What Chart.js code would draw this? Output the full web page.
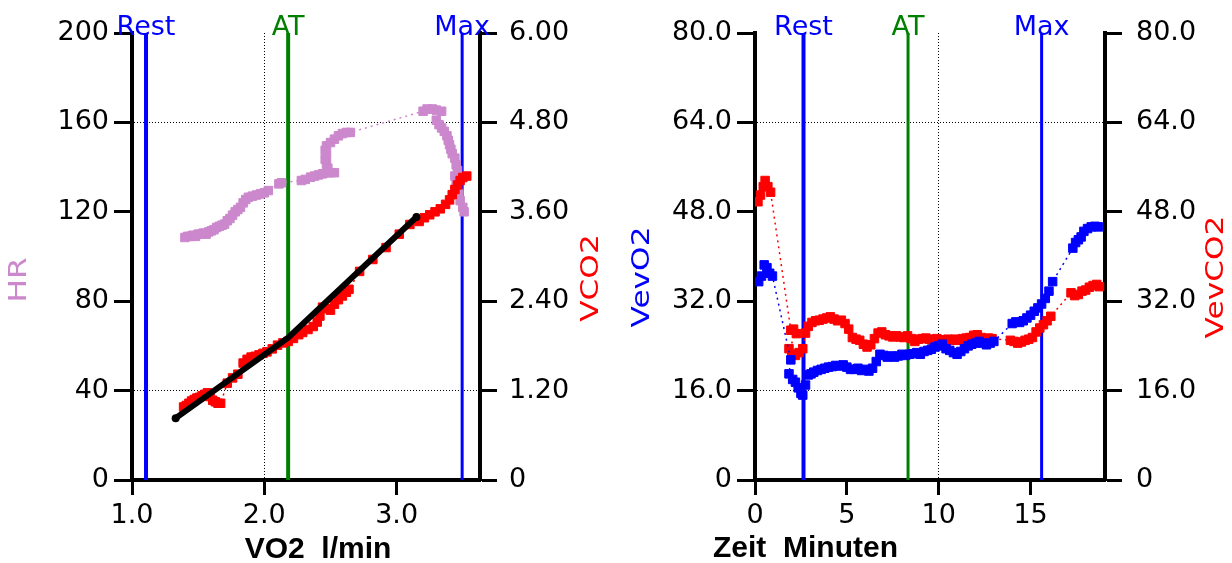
<!DOCTYPE html>
<html><head><meta charset="utf-8">
<script src="https://cdn.jsdelivr.net/npm/chart.js@4.4.0/dist/chart.umd.min.js"></script>
<style>
html,body{margin:0;padding:0;background:#fff;overflow:hidden}
#w{position:relative;width:1232px;height:563px;background:#fff}
.c{position:absolute;top:0;width:616px;height:563px}
</style></head><body>
<div id="w"><div class="c" style="left:0"><canvas id="c1"></canvas></div><div class="c" style="left:616px"><canvas id="c2"></canvas></div></div>
<script>
// ---------- DATA ----------
const markerNames = ['Rest', 'AT', 'Max'];
const vo2Markers = [1.106, 2.18, 3.495];
const timeMarkers = [2.64, 8.33, 15.6];

const hrTicks = [0, 40, 80, 120, 160, 200];
const vco2Ticks = [0, 1.2, 2.4, 3.6, 4.8, 6.0];
const vo2Ticks = [1, 2, 3];
const timeTicks = [0, 5, 10, 15];
const ventTicks = [0, 16, 32, 48, 64, 80];

// HR vs VO2
const hrVo2 = [1.40,1.42,1.44,1.46,1.48,1.50,1.52,1.54,1.56,1.58,1.60,1.62,1.64,1.66,1.68,1.70,1.72,1.74,1.76,1.78,1.80,1.82,1.84,1.86,1.88,1.91,1.94,1.97,2.00,2.03,2.11,2.13,2.28,2.31,2.35,2.38,2.41,2.44,2.47,2.50,2.53,2.48,2.47,2.46,2.47,2.46,2.47,2.50,2.53,2.56,2.59,2.62,2.65,3.20,3.23,3.27,3.30,3.34,3.30,3.32,3.34,3.36,3.38,3.39,3.40,3.41,3.42,3.44,3.45,3.46,3.44,3.45,3.46,3.47,3.48,3.50,3.51];
const hrValues = [108.5,109,109,109.5,109,110,110,110.5,110,111,111.5,112,113,113.5,114,114.5,116,117,118.5,120,121,122,124,125.5,126.5,127,127.5,128,128.5,129.5,132.5,133,134,134.5,135.5,136,136.5,137,137.5,137.5,137.5,139.5,141.5,143.5,145.5,147.5,149.5,151,152.5,154,155,155.5,155.5,165,166,166,165.5,165,161,159,157.5,156,154,152,150,148,146,144,141,138.5,136,133,130.5,128,125,122,120];

// VCO2 vs VO2
const co2Vo2 = [1.39,1.41,1.43,1.45,1.47,1.49,1.51,1.53,1.55,1.57,1.59,1.61,1.63,1.65,1.67,1.72,1.76,1.80,1.84,1.87,1.90,1.93,1.96,1.99,2.02,2.06,2.10,2.14,2.18,2.22,2.26,2.29,2.33,2.37,2.40,2.42,2.44,2.47,2.50,2.53,2.56,2.59,2.62,2.64,2.72,2.82,2.92,3.02,3.10,3.17,3.21,3.25,3.29,3.33,3.37,3.40,3.42,3.44,3.46,3.48,3.50,3.53];
const vco2Values = [0.98,1.00,1.03,1.06,1.08,1.10,1.11,1.13,1.15,1.17,1.12,1.07,1.05,1.03,1.03,1.30,1.37,1.42,1.57,1.62,1.65,1.66,1.68,1.70,1.72,1.76,1.81,1.84,1.86,1.90,1.95,1.98,2.02,2.06,2.12,2.20,2.32,2.30,2.28,2.36,2.42,2.47,2.52,2.56,2.80,2.96,3.12,3.30,3.43,3.47,3.52,3.56,3.60,3.64,3.70,3.76,3.83,3.90,3.96,4.02,4.06,4.08];

// regression line (VCO2 vs VO2)
const fitVo2 = [1.33, 2.18, 3.15];
const fitVco2 = [0.83, 1.91, 3.53];

// VE/VO2 over time
const veo2Time = [0.2,0.35,0.5,0.65,0.8,0.95,1.95,1.85,2.05,2.2,2.35,2.5,2.6,2.75,2.9,3.05,3.2,3.4,3.6,3.8,4.0,4.2,4.4,4.6,4.8,5.0,5.2,5.4,5.6,5.8,6.0,6.2,6.4,6.6,6.8,7.0,7.2,7.4,7.6,7.8,8.0,8.2,8.4,8.6,8.8,9.0,9.2,9.4,9.6,9.8,10.0,10.2,10.4,10.6,10.8,11.0,11.2,11.4,11.6,11.8,12.0,12.2,12.4,12.6,12.8,13.0,14.0,14.2,14.4,14.6,14.8,15.0,15.2,15.4,15.6,15.8,16.0,16.2,17.3,17.45,17.6,17.75,17.9,18.1,18.3,18.5,18.7];
const veo2Values = [35.5,36.5,38.5,38,37,36.5,21.5,19,18,17.5,16.5,15.5,15.2,17,18.8,19,19.3,19.6,19.8,20,20.2,20.3,20.5,20.4,20.6,20.2,19.8,19.8,20,19.6,19.8,19.5,20,21.2,22.5,22.3,22,22.2,22,22.2,22.5,22.3,22.5,22.6,22.8,22.5,23,23.2,23.4,23.8,24,24.3,23.5,23.2,22.8,22.5,23,23.5,24,24.3,24.5,24.8,24.5,24.2,24.5,24.8,28,28.3,28.2,28.5,29,29.5,30.2,30.8,31.5,32.5,33.8,35.5,41.5,42.5,43,43.5,44.5,45,45.3,45.4,45.3];

// VE/VCO2 over time
const veco2Time = [0.16,0.3,0.45,0.55,0.7,0.85,1.95,2.1,2.25,1.85,2.0,2.2,2.4,2.6,2.75,2.9,3.1,3.3,3.5,3.7,3.9,4.1,4.3,4.5,4.7,4.9,5.1,5.3,5.5,5.7,5.9,6.1,6.3,6.5,6.7,6.9,7.1,7.3,7.5,7.7,7.9,8.1,8.3,8.5,8.7,8.9,9.1,9.3,9.5,9.7,9.9,10.1,10.3,10.5,10.7,10.9,11.1,11.3,11.5,11.7,11.9,12.1,12.3,12.5,12.7,12.9,13.9,14.1,14.3,14.5,14.7,14.9,15.1,15.3,15.5,15.7,15.9,16.1,17.2,17.4,17.6,17.8,18.0,18.2,18.4,18.6,18.75];
const veco2Values = [49.8,51,52.5,53.6,52.5,51.5,26.8,27,26.2,23.5,22.5,22.3,22.8,23.5,26.3,27.5,28.2,28.5,28.6,28.8,29,29.2,28.8,28.5,28.6,28,27,25.5,25.2,25,24.3,23.8,24.2,25.3,26.3,26.5,26,25.8,25.6,25.8,25.6,25.5,25.8,25.3,24.8,25.2,25.3,25.4,25.2,24.8,25.3,25.1,24.9,25.2,25.0,25.2,25.0,25.3,25.4,25.5,25.9,26,25.5,25.2,25.4,25.3,25.0,24.8,24.5,24.7,25.0,25.2,25.5,26.5,27.2,27.8,28.5,29.3,33.5,33,33.2,33.8,34,34.5,34.8,35,34.6];

// ---------- STYLE / BUILD ----------
const BLUE = '#0000ff', GREEN = '#008000', RED = '#ff0000', VIOLET = '#cc88cc', T = 'rgba(0,0,0,0)';
const markerColors = [BLUE, GREEN, BLUE];
const FONT = 'DejaVu Sans';
Chart.defaults.font.family = FONT;
Chart.defaults.color = '#000';

const pts = (xs, ys) => xs.map((x, i) => ({x, y: ys[i]}));

function scatterSet(xs, ys, color, axis, order) {
  return {type: 'line', data: pts(xs, ys), yAxisID: axis, showLine: true, order,
    borderColor: color, borderWidth: 1.5, borderDash: [2, 4], backgroundColor: color,
    pointStyle: 'rect', pointRadius: 6, pointBorderWidth: 1, pointBackgroundColor: color, pointBorderColor: color, tension: 0};
}
function markerSets(values, yMax, widths, axis) {
  return values.map((v, i) => ({type: 'line', data: [{x: v, y: 0}, {x: v, y: yMax}], yAxisID: axis,
    borderColor: markerColors[i], borderWidth: widths[i], pointRadius: 0, order: 10}));
}
function tickSetter(arr) { return s => { s.ticks = arr.map(v => ({value: v})); }; }
function gridFor(gridVals, tickLen) {
  return {
    color: c => (c.tick && gridVals.includes(c.tick.value)) ? '#000' : T,
    lineWidth: 1, tickColor: '#000', tickWidth: 3, tickLength: tickLen, tickBorderDash: []
  };
}
const tickFont = {family: FONT, size: 27};

const labelPlugin = {
  id: 'labels',
  afterDraw(chart, args, o) {
    const ctx = chart.ctx, ca = chart.chartArea, xs = chart.scales.x;
    ctx.save();
    ctx.font = '27px "' + FONT + '"';
    ctx.textAlign = 'center'; ctx.textBaseline = 'alphabetic';
    o.markers.forEach((v, i) => {
      ctx.fillStyle = markerColors[i];
      ctx.fillText(markerNames[i], xs.getPixelForValue(v), ca.top + 2);
    });
    o.yTitles.forEach(t => {
      ctx.save();
      ctx.translate(t.x, t.y);
      ctx.rotate(-Math.PI / 2);
      ctx.scale(1.3, 1);
      ctx.font = '24px "' + FONT + '"';
      ctx.fillStyle = t.color; ctx.textAlign = 'center'; ctx.textBaseline = 'middle';
      ctx.fillText(t.text, 0, 0);
      ctx.restore();
    });
    ctx.font = 'bold 30px "Liberation Sans"';
    ctx.fillStyle = '#000'; ctx.textAlign = o.xTitle.align; ctx.textBaseline = 'alphabetic';
    ctx.fillText(o.xTitle.text, o.xTitle.x, o.xTitle.y);
    ctx.restore();
  }
};

function baseScales(cfg) {
  return {
    x: {type: 'linear', min: cfg.xMin, max: cfg.xMax, afterBuildTicks: tickSetter(cfg.xTicks),
      afterFit: s => { s.height = 83; },
      grid: gridFor(cfg.xGrid, 15), border: {color: '#000', width: 4, dash: [1, 2]},
      ticks: {font: tickFont, color: '#000', padding: 5, maxRotation: 0, autoSkip: false, callback: cfg.xFmt}},
    y: {position: 'left', min: 0, max: cfg.yMax, afterBuildTicks: tickSetter(cfg.yTicks),
      afterFit: s => { s.width = cfg.leftW; },
      grid: gridFor(cfg.yGrid, 18), border: {color: '#000', width: 4, dash: [1, 2]},
      ticks: {font: tickFont, color: '#000', padding: 5, autoSkip: false, callback: cfg.yFmt}},
    y2: {position: 'right', min: 0, max: cfg.y2Max, afterBuildTicks: tickSetter(cfg.y2Ticks),
      afterFit: s => { s.width = cfg.rightW; },
      grid: {drawOnChartArea: false, color: '#000', tickColor: '#000', tickWidth: 3, tickLength: 17, tickBorderDash: []},
      border: {color: '#000', width: 4},
      ticks: {font: tickFont, color: '#000', padding: cfg.rightPad, autoSkip: false, callback: cfg.y2Fmt}}
  };
}

const common = {responsive: true, maintainAspectRatio: false, animation: false, devicePixelRatio: 1,
  layout: {padding: {top: 33, left: 0, right: 0, bottom: 0}}, events: []};

// Chart 1: HR / VCO2 vs VO2
new Chart(document.getElementById('c1'), {
  type: 'scatter',
  data: {datasets: [
    {type: 'line', data: pts(fitVo2, fitVco2), yAxisID: 'y2', borderColor: '#000', borderWidth: 6,
      pointRadius: [4, 0, 4], pointBackgroundColor: '#000', pointBorderWidth: 0, order: 0, tension: 0, borderCapStyle: 'round'},
    scatterSet(co2Vo2, vco2Values, RED, 'y2', 1),
    scatterSet(hrVo2, hrValues, VIOLET, 'y', 2),
    ...markerSets(vo2Markers, 200, [4, 4, 3], 'y')
  ]},
  options: Object.assign({}, common, {
    scales: baseScales({xMin: 1.0, xMax: 3.63, xTicks: vo2Ticks, xGrid: [2], xFmt: v => v.toFixed(1),
      yMax: 200, yTicks: hrTicks, yGrid: [40, 160], yFmt: v => String(v), leftW: 132,
      y2Max: 6, y2Ticks: vco2Ticks, y2Fmt: v => v === 0 ? '0' : v.toFixed(2), rightW: 136, rightPad: 12}),
    plugins: {legend: {display: false}, tooltip: {enabled: false},
      labels: {markers: vo2Markers,
        yTitles: [{text: 'HR', x: 20, y: 280, color: VIOLET}, {text: 'VCO2', x: 592, y: 278, color: RED}],
        xTitle: {text: 'VO2  l/min', x: 318, y: 558, align: 'center'}}}
  }),
  plugins: [labelPlugin]
});

// Chart 2: VE/VO2 and VE/VCO2 over time
new Chart(document.getElementById('c2'), {
  type: 'scatter',
  data: {datasets: [
    scatterSet(veo2Time, veo2Values, BLUE, 'y', 0),
    scatterSet(veco2Time, veco2Values, RED, 'y2', 1),
    ...markerSets(timeMarkers, 80, [4, 3, 3], 'y')
  ]},
  options: Object.assign({}, common, {
    scales: baseScales({xMin: 0, xMax: 19.05, xTicks: timeTicks, xGrid: [10], xFmt: v => String(v),
      yMax: 80, yTicks: ventTicks, yGrid: [16, 64], yFmt: v => v === 0 ? '0' : v.toFixed(1), leftW: 139,
      y2Max: 80, y2Ticks: ventTicks, y2Fmt: v => v === 0 ? '0' : v.toFixed(1), rightW: 127, rightPad: 14}),
    plugins: {legend: {display: false}, tooltip: {enabled: false},
      labels: {markers: timeMarkers,
        yTitles: [{text: 'VevO2', x: 27, y: 277, color: BLUE}, {text: 'VevCO2', x: 601, y: 277, color: RED}],
        xTitle: {text: 'Zeit  Minuten', x: 97, y: 557, align: 'left'}}}
  }),
  plugins: [labelPlugin]
});
</script>
</body></html>
